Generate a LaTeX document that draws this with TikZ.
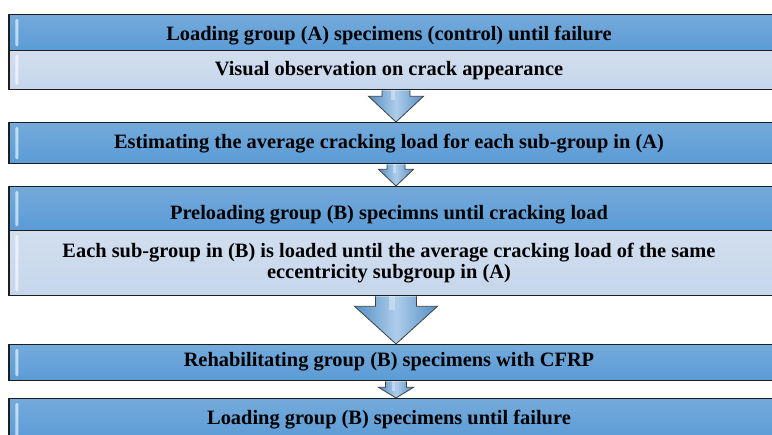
\documentclass[tikz,border=0pt]{standalone}
\usepackage{fontspec}
\setmainfont{Liberation Serif}
\usetikzlibrary{calc}
\definecolor{hdr}{HTML}{5B9BD5}
\definecolor{subc}{HTML}{C6D6EB}
\definecolor{edge}{HTML}{1E1E1E}
\newcommand\myblockarrow[5]{%
  \path[arrowshape] ($(#1.south)+(-#3,0)$) -- ($(#1.south)+(-#3,#5)$) -- ($(#1.south)+(-#4,#5)$) -- (#2.north) -- ($(#1.south)+(#4,#5)$) -- ($(#1.south)+(#3,#5)$) -- ($(#1.south)+(#3,0)$);
  \fill[white,opacity=0.35] ($(#1.south)+(-#3*0.35,0)$) rectangle ($(#1.south)+(-#3*0.05,#5+4)$);
}
\newcommand\mygloss[1]{%
  \fill[white,opacity=0.6,rounded corners=1.2pt] ($(#1.north west)+(7,5)$) rectangle ($(#1.south west)+(10,-5)$);
}
\begin{document}
\begin{tikzpicture}[x=1pt,y=-1pt,
  boxbase/.style={draw=edge,line width=1.3pt,minimum width=774pt,inner sep=0pt,anchor=north},
  hdrbox/.style={boxbase,top color=hdr!85!white,bottom color=hdr},
  subbox/.style={boxbase,top color=subc!80!white,bottom color=subc},
  txt/.style={font=\fontsize{20.4}{21}\selectfont\bfseries,text=black,align=center,inner sep=0pt},
  arrowshape/.style={draw=edge!85,line width=0.8pt,left color=hdr!92!black,right color=hdr!92!black,middle color=hdr!50!white}]
\useasboundingbox (0,0) rectangle (772,435);
\clip (0,0) rectangle (772,435);
% boxes
\node[hdrbox,minimum height=36pt] (h1) at (396,14) {};
\node[subbox,minimum height=39pt] (s1) at (396,50) {};
\node[hdrbox,minimum height=41pt] (h2) at (396,122) {};
\node[hdrbox,minimum height=44pt] (h3) at (396,186) {};
\node[subbox,minimum height=65pt] (s3) at (396,230) {};
\node[hdrbox,minimum height=36pt] (h4) at (396,344) {};
\node[hdrbox,minimum height=42pt] (h5) at (396,398) {};
% gloss
\mygloss{h1}\mygloss{s1}\mygloss{h2}\mygloss{h3}\mygloss{s3}\mygloss{h4}\mygloss{h5}
% arrows
\myblockarrow{s1}{h2}{14}{27.5}{6}
\myblockarrow{h2}{h3}{9}{17.5}{5}
\myblockarrow{s3}{h4}{20.5}{41.5}{10}
\myblockarrow{h4}{h5}{10.5}{17.5}{6}
% texts
\node[txt] (t1) at (389,35.5) {Loading group (A) specimens (control) until failure};
\node[txt] (t1b) at (389,71) {Visual observation on crack appearance};
\node[txt] (t2) at (389,143.3) {Estimating the average cracking load for each sub-group in (A)};
\node[txt] (t3) at (389,215) {Preloading group (B) specimns until cracking load};
\node[txt] (t3b) at (389,263.5) {Each sub-group in (B) is loaded until the average cracking load of the same\\eccentricity subgroup in (A)};
\node[txt] (t4) at (389,362) {Rehabilitating group (B) specimens with CFRP};
\node[txt] (t5) at (389,420) {Loading group (B) specimens until failure};
\end{tikzpicture}
\end{document}
